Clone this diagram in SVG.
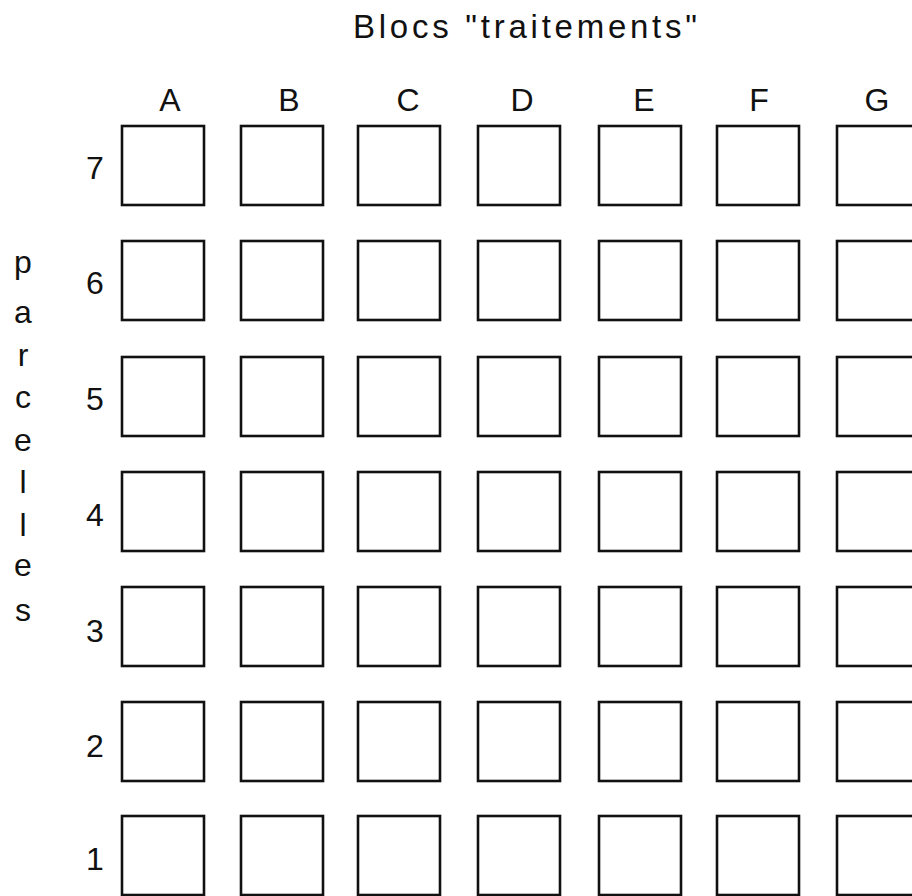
<svg xmlns="http://www.w3.org/2000/svg" width="912" height="896" viewBox="0 0 912 896">
<style>
  .cell { fill: #ffffff; stroke: #111111; stroke-width: 2.6; }
  .lbl { font-family: "Liberation Sans", Arial, sans-serif; font-size: 32px; fill: #111111; text-anchor: middle; }
  .title { font-family: "Liberation Sans", Arial, sans-serif; font-size: 33px; fill: #111111; }
</style>
<rect x="0" y="0" width="912" height="896" fill="#ffffff"/>
<text class="title" x="353" y="38" textLength="344" lengthAdjust="spacing">Blocs "traitements"</text>
<g id="col-labels">
  <text class="lbl" x="170" y="111">A</text>
  <text class="lbl" x="289" y="111">B</text>
  <text class="lbl" x="408" y="111">C</text>
  <text class="lbl" x="522" y="111">D</text>
  <text class="lbl" x="644" y="111">E</text>
  <text class="lbl" x="759" y="111">F</text>
  <text class="lbl" x="877" y="111">G</text>
</g>
<g id="row-labels">
  <text class="lbl" x="95" y="179">7</text>
  <text class="lbl" x="95" y="294">6</text>
  <text class="lbl" x="95" y="410">5</text>
  <text class="lbl" x="95" y="526">4</text>
  <text class="lbl" x="95" y="642">3</text>
  <text class="lbl" x="95" y="757">2</text>
  <text class="lbl" x="95" y="870">1</text>
</g>
<g id="axis-label">
  <text class="lbl" x="23" y="273">p</text>
  <text class="lbl" x="23" y="323">a</text>
  <text class="lbl" x="23" y="366">r</text>
  <text class="lbl" x="23" y="408">c</text>
  <text class="lbl" x="23" y="451">e</text>
  <text class="lbl" x="23" y="493">l</text>
  <text class="lbl" x="23" y="536">l</text>
  <text class="lbl" x="23" y="576">e</text>
  <text class="lbl" x="23" y="621">s</text>
</g>
<defs>
  <rect id="box" class="cell" x="0" y="0" width="82" height="79"/>
</defs>
<g id="cells">
  <g id="A7"><use href="#box" x="122" y="126"/></g>
  <g id="B7"><use href="#box" x="241" y="126"/></g>
  <g id="C7"><use href="#box" x="358" y="126"/></g>
  <g id="D7"><use href="#box" x="478" y="126"/></g>
  <g id="E7"><use href="#box" x="599" y="126"/></g>
  <g id="F7"><use href="#box" x="717" y="126"/></g>
  <g id="G7"><use href="#box" x="837" y="126"/></g>

  <g id="A6"><use href="#box" x="122" y="241"/></g>
  <g id="B6"><use href="#box" x="241" y="241"/></g>
  <g id="C6"><use href="#box" x="358" y="241"/></g>
  <g id="D6"><use href="#box" x="478" y="241"/></g>
  <g id="E6"><use href="#box" x="599" y="241"/></g>
  <g id="F6"><use href="#box" x="717" y="241"/></g>
  <g id="G6"><use href="#box" x="837" y="241"/></g>

  <g id="A5"><use href="#box" x="122" y="357"/></g>
  <g id="B5"><use href="#box" x="241" y="357"/></g>
  <g id="C5"><use href="#box" x="358" y="357"/></g>
  <g id="D5"><use href="#box" x="478" y="357"/></g>
  <g id="E5"><use href="#box" x="599" y="357"/></g>
  <g id="F5"><use href="#box" x="717" y="357"/></g>
  <g id="G5"><use href="#box" x="837" y="357"/></g>

  <g id="A4"><use href="#box" x="122" y="472"/></g>
  <g id="B4"><use href="#box" x="241" y="472"/></g>
  <g id="C4"><use href="#box" x="358" y="472"/></g>
  <g id="D4"><use href="#box" x="478" y="472"/></g>
  <g id="E4"><use href="#box" x="599" y="472"/></g>
  <g id="F4"><use href="#box" x="717" y="472"/></g>
  <g id="G4"><use href="#box" x="837" y="472"/></g>

  <g id="A3"><use href="#box" x="122" y="587"/></g>
  <g id="B3"><use href="#box" x="241" y="587"/></g>
  <g id="C3"><use href="#box" x="358" y="587"/></g>
  <g id="D3"><use href="#box" x="478" y="587"/></g>
  <g id="E3"><use href="#box" x="599" y="587"/></g>
  <g id="F3"><use href="#box" x="717" y="587"/></g>
  <g id="G3"><use href="#box" x="837" y="587"/></g>

  <g id="A2"><use href="#box" x="122" y="702"/></g>
  <g id="B2"><use href="#box" x="241" y="702"/></g>
  <g id="C2"><use href="#box" x="358" y="702"/></g>
  <g id="D2"><use href="#box" x="478" y="702"/></g>
  <g id="E2"><use href="#box" x="599" y="702"/></g>
  <g id="F2"><use href="#box" x="717" y="702"/></g>
  <g id="G2"><use href="#box" x="837" y="702"/></g>

  <g id="A1"><use href="#box" x="122" y="816"/></g>
  <g id="B1"><use href="#box" x="241" y="816"/></g>
  <g id="C1"><use href="#box" x="358" y="816"/></g>
  <g id="D1"><use href="#box" x="478" y="816"/></g>
  <g id="E1"><use href="#box" x="599" y="816"/></g>
  <g id="F1"><use href="#box" x="717" y="816"/></g>
  <g id="G1"><use href="#box" x="837" y="816"/></g>
</g>
<g id="connectors"></g>
</svg>
